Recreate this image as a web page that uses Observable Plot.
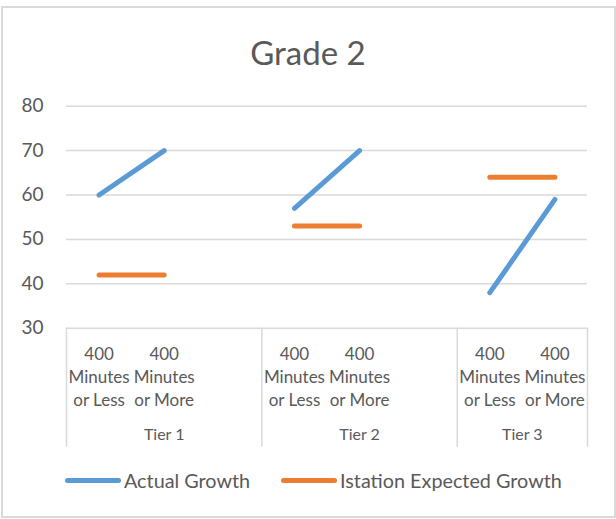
<!DOCTYPE html>
<html>
<head>
<meta charset="utf-8">
<script src="https://cdn.jsdelivr.net/npm/d3@7"></script>
<script src="https://cdn.jsdelivr.net/npm/@observablehq/plot@0.6"></script>
<style>
  html, body { margin: 0; padding: 0; background: #fff; }
  #wrap { position: relative; width: 616px; height: 519px; font-family: Lato, "Open Sans", sans-serif; color: #595959; }
  #frame { position: absolute; left: 1px; top: 6px; width: 615px; height: 512px; box-sizing: border-box; border: 2px solid #d9d9d9; }
  #title { position: absolute; left: 0; top: 32px; width: 616px; text-align: center; font-size: 33px; line-height: 40px; }
  #chart { position: absolute; left: 0; top: 80px; }
  #legend { position: absolute; left: 0; top: 467px; height: 26px; width: 616px; }
  .item { position: absolute; top: 0; display: flex; align-items: center; height: 26px; font-size: 19.8px; }
  .sw { display: inline-block; width: 56px; height: 5px; border-radius: 3px; margin-right: 3px; }
</style>
</head>
<body>
<div id="wrap">
  <div id="frame"></div>
  <div id="title"></div>
  <div id="chart"></div>
  <div id="legend"></div>
</div>
<script>
// ---- data ----
const chartTitle = "Grade 2";
const tiers = ["Tier 1", "Tier 1", "Tier 1", "Tier 2", "Tier 2", "Tier 2", "Tier 3", "Tier 3"];
const categories = ["400\nMinutes\nor Less", "400\nMinutes\nor More", "", "400\nMinutes\nor Less", "400\nMinutes\nor More", "", "400\nMinutes\nor Less", "400\nMinutes\nor More"];
const actualGrowth = [60, 70, null, 57, 70, null, 38, 59];
const expectedGrowth = [42, 42, null, 53, 53, null, 64, 64];
const yTicks = [30, 40, 50, 60, 70, 80];
const seriesNames = ["Actual Growth", "Istation Expected Growth"];
const seriesColors = ["#5b9bd5", "#ed7d31"];

// ---- derived table ----
const rows = categories.map((c, i) => ({i, tier: tiers[i], cat: c, actual: actualGrowth[i], expected: expectedGrowth[i]}));
const tierNames = Array.from(new Set(tiers));
const tierSpans = tierNames.map(t => {
  const idx = rows.filter(r => r.tier === t).map(r => r.i);
  return {tier: t, start: d3.min(idx), end: d3.max(idx) + 1};
});
const bounds = Array.from(new Set(tierSpans.flatMap(s => [s.start, s.end])));

document.getElementById("title").textContent = chartTitle;

const H = 380, top0 = 80;
const plot = Plot.plot({
  width: 616,
  height: H,
  marginLeft: 66,
  marginRight: 29,
  marginTop: 105.7 - top0,
  marginBottom: top0 + H - 327.7,
  style: {fontFamily: "Lato, 'Open Sans', sans-serif", fontSize: "19px", color: "#595959", background: "transparent", overflow: "visible"},
  x: {type: "linear", domain: [0, rows.length], axis: null},
  y: {domain: [yTicks[0], yTicks[yTicks.length - 1]], ticks: yTicks, axis: null},
  marks: [
    Plot.ruleY(yTicks, {stroke: "#d9d9d9", strokeWidth: 1.5}),
    Plot.ruleX(bounds, {x: d => d, y1: yTicks[0], y2: yTicks[0], insetBottom: -119, stroke: "#d9d9d9", strokeWidth: 1.5}),
    Plot.axisY({ticks: yTicks, tickSize: 0, tickPadding: 23, fontSize: 19, fill: "#595959", label: null}),
    Plot.text(rows.filter(r => r.cat), {x: r => r.i + 0.5, y: yTicks[0], text: "cat", dy: 16, lineAnchor: "top", lineHeight: 1.35, fontSize: 17, fill: "#595959"}),
    Plot.text(tierSpans, {x: s => (s.start + s.end) / 2, y: yTicks[0], text: "tier", dy: 107, lineAnchor: "middle", fontSize: 16, fill: "#595959"}),
    Plot.lineY(rows, {x: r => r.i + 0.5, y: "actual", stroke: seriesColors[0], strokeWidth: 5, strokeLinecap: "round"}),
    Plot.lineY(rows, {x: r => r.i + 0.5, y: "expected", stroke: seriesColors[1], strokeWidth: 5, strokeLinecap: "round"})
  ]
});
document.getElementById("chart").appendChild(plot);

// ---- legend ----
const legend = document.getElementById("legend");
const legendLeft = [65, 281];
seriesNames.forEach((name, k) => {
  const item = document.createElement("div");
  item.className = "item";
  item.style.left = legendLeft[k] + "px";
  const sw = document.createElement("span");
  sw.className = "sw";
  sw.style.background = seriesColors[k];
  const tx = document.createElement("span");
  tx.textContent = name;
  item.appendChild(sw);
  item.appendChild(tx);
  legend.appendChild(item);
});
</script>
</body>
</html>
